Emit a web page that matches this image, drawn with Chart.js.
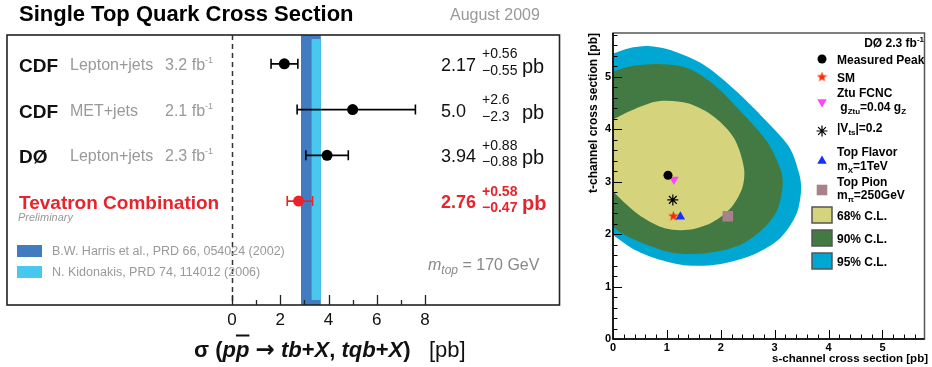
<!DOCTYPE html>
<html lang="en">
<head>
<meta charset="UTF-8" />
<title>Single Top Quark Cross Section</title>
<script src="https://cdn.jsdelivr.net/npm/chart.js@4.4.0/dist/chart.umd.min.js"></script>
<style>
  body { margin: 0; background: #fff; }
  #wrap { position: relative; width: 932px; height: 367px; overflow: hidden;
          font-family: "Liberation Sans", Arial, Helvetica, sans-serif; }
  canvas { position: absolute; top: 0; }
  .t { position: absolute; white-space: nowrap; line-height: 1; }
  .t sub, .t sup { line-height: 0; }
</style>
</head>
<body>
<div id="wrap">
  <canvas id="left" width="565" height="367" style="left:0"></canvas>
  <canvas id="right" width="370" height="367" style="left:562px"></canvas>
</div>
<script>
// ---- left panel: measurements ----
const rowNames = ['CDF', 'CDF', 'DØ', 'Tevatron Combination'];
const rowChannel = ['Lepton+jets', 'MET+jets', 'Lepton+jets', ''];
const rowLumi = ['3.2', '2.1', '2.3', ''];
const rowPos = [1, 2, 3, 4];
const xsec = [2.17, 5.0, 3.94, 2.76];
const xsecText = ['2.17', '5.0', '3.94', '2.76'];
const errUp = [0.56, 2.6, 0.88, 0.58];
const errDown = [0.55, 2.3, 0.88, 0.47];
const upText = ['+0.56', '+2.6', '+0.88', '+0.58'];
const downText = ['−0.55', '−2.3', '−0.88', '−0.47'];
const harrisBand = [2.86, 3.68];
const kidonakisBand = [3.30, 3.68];
const xTicks = [0, 2, 4, 6, 8];

// ---- right panel: s vs t channel ----
const models = ['Measured Peak', 'SM', 'Ztu FCNC', '|Vts|=0.2', 'Top Flavor', 'Top Pion'];
const modelS = [1.02, 1.12, 1.13, 1.11, 1.25, 2.13];
const modelT = [3.12, 2.34, 3.04, 2.65, 2.33, 2.34];
const c68s = [-0.2, 0, 0.35, 0.84, 1.39, 1.88, 2.25, 2.43, 2.40, 2.19, 1.82, 1.39, 0.96, 0.53, 0.22, 0, -0.2];
const c68t = [4.08, 4.18, 4.36, 4.53, 4.49, 4.23, 3.82, 3.26, 2.88, 2.50, 2.21, 2.08, 2.11, 2.33, 2.59, 2.81, 2.95];
const c90s = [-0.2, 0, 0.35, 0.84, 1.39, 1.88, 2.43, 2.86, 3.10, 3.15, 3.04, 2.74, 2.31, 1.69, 1.08, 0.59, 0.22, 0, -0.2];
const c90t = [5.02, 5.09, 5.20, 5.24, 5.16, 4.84, 4.27, 3.76, 3.26, 2.95, 2.44, 2.06, 1.77, 1.63, 1.65, 1.81, 1.98, 2.14, 2.3];
const c95s = [-0.2, 0, 0.3, 0.65, 1.08, 1.69, 2.30, 2.91, 3.28, 3.46, 3.49, 3.40, 3.10, 2.61, 2.00, 1.39, 0.78, 0.35, 0, -0.2];
const c95t = [5.38, 5.44, 5.54, 5.58, 5.50, 5.22, 4.71, 4.08, 3.64, 3.13, 2.82, 2.37, 1.92, 1.61, 1.43, 1.40, 1.54, 1.73, 1.98, 2.1];

const FONT = '"Liberation Sans", Arial, Helvetica, sans-serif';
const RED = '#e8232b';
const DARKBLUE = '#417cc0';
const LIGHTBLUE = '#48c8ee';
const CL_COLORS = ['#d5d47c', '#437a44', '#00a7d2'];
const wrap = document.getElementById('wrap');

function put(html, x, y, style, anchor) {
  const d = document.createElement('div');
  d.className = 't';
  d.innerHTML = html;
  d.style.cssText += style;
  d.style.left = x + 'px';
  d.style.top = y + 'px';
  const ax = anchor === 'right' ? '-100%' : anchor === 'center' ? '-50%' : '0';
  d.style.transform = 'translate(' + ax + ',-50%)';
  wrap.appendChild(d);
  return d;
}

const leftDecor = {
  id: 'leftDecor',
  beforeDatasetsDraw(chart) {
    const ctx = chart.ctx, a = chart.chartArea;
    const xs = chart.scales.x, ys = chart.scales.y;
    ctx.save();
    // theory bands
    let x1 = xs.getPixelForValue(harrisBand[0]), x2 = xs.getPixelForValue(harrisBand[1]);
    ctx.fillStyle = DARKBLUE;
    ctx.fillRect(x1, a.top, x2 - x1, a.bottom - a.top);
    x1 = xs.getPixelForValue(kidonakisBand[0]); x2 = xs.getPixelForValue(kidonakisBand[1]);
    ctx.fillStyle = LIGHTBLUE;
    ctx.fillRect(x1, a.top + 4, x2 - x1, a.bottom - a.top - 9);
    // zero line
    const x0 = Math.round(xs.getPixelForValue(0)) + 0.5;
    ctx.strokeStyle = '#333';
    ctx.lineWidth = 1.5;
    ctx.setLineDash([5, 4]);
    ctx.beginPath(); ctx.moveTo(x0, a.top); ctx.lineTo(x0, a.bottom); ctx.stroke();
    ctx.setLineDash([]);
    // error bars
    xsec.forEach((v, i) => {
      const y = ys.getPixelForValue(rowPos[i]);
      const lo = xs.getPixelForValue(v - errDown[i]), hi = xs.getPixelForValue(v + errUp[i]);
      ctx.strokeStyle = i === 3 ? RED : '#000';
      ctx.lineWidth = 1.6;
      ctx.beginPath();
      ctx.moveTo(lo, y); ctx.lineTo(hi, y);
      ctx.moveTo(lo, y - 5); ctx.lineTo(lo, y + 5);
      ctx.moveTo(hi, y - 5); ctx.lineTo(hi, y + 5);
      ctx.stroke();
    });
    ctx.restore();
  },
  afterDraw(chart) {
    const ctx = chart.ctx, a = chart.chartArea, xs = chart.scales.x;
    ctx.save();
    ctx.strokeStyle = '#222';
    ctx.lineWidth = 1.6;
    ctx.strokeRect(a.left, a.top, a.right - a.left, a.bottom - a.top);
    ctx.lineWidth = 1.3;
    ctx.beginPath();
    for (let v = 0; v <= 8; v++) {
      const x = Math.round(xs.getPixelForValue(v)) + 0.5;
      ctx.moveTo(x, a.bottom);
      ctx.lineTo(x, a.bottom - (v % 2 === 0 ? 10 : 5));
    }
    ctx.stroke();
    // legend swatches
    ctx.fillStyle = DARKBLUE; ctx.fillRect(17, 245, 25, 12);
    ctx.fillStyle = LIGHTBLUE; ctx.fillRect(17, 266, 25, 12);
    ctx.restore();
  }
};

const leftChart = new Chart(document.getElementById('left'), {
  type: 'scatter',
  data: {
    datasets: [
      { data: xsec.slice(0, 3).map((v, i) => ({ x: v, y: rowPos[i] })),
        pointRadius: 5.5, backgroundColor: '#000', borderColor: '#000', borderWidth: 0 },
      { data: [{ x: xsec[3], y: rowPos[3] }],
        pointRadius: 5.5, backgroundColor: RED, borderColor: RED, borderWidth: 0 }
    ]
  },
  options: {
    responsive: false,
    animation: false,
    layout: { padding: { left: 7, right: 3, top: 35, bottom: 0 } },
    plugins: { legend: { display: false }, tooltip: { enabled: false } },
    scales: {
      x: {
        type: 'linear', min: -9.32, max: 13.57,
        afterFit(s) { s.height = 62; },
        afterBuildTicks(s) { s.ticks = xTicks.map(v => ({ value: v })); },
        grid: { display: false, drawTicks: false },
        border: { display: false },
        ticks: { font: { size: 17, family: FONT }, color: '#111', padding: 5, maxRotation: 0 }
      },
      y: { type: 'linear', display: false, reverse: true, min: 0.37, max: 6.27 }
    }
  },
  plugins: [leftDecor]
});

// left panel texts
put('Single Top Quark Cross Section', 19, 14, 'font-size:22px;font-weight:bold;color:#000;');
put('August 2009', 450, 15, 'font-size:16px;color:#999;');
rowPos.forEach((p, i) => {
  const y = leftChart.scales.y.getPixelForValue(p) + 1;
  const isComb = i === 3;
  const col = isComb ? RED : '#111';
  put(rowNames[i], 19, y, 'font-size:19px;font-weight:bold;color:' + col + ';');
  if (rowChannel[i]) {
    put(rowChannel[i], 70, y, 'font-size:16px;color:#999;');
    put(rowLumi[i] + ' fb<sup style="font-size:9px;vertical-align:7px">-1</sup>', 165, y, 'font-size:16px;color:#999;');
  }
  const w = isComb ? 'font-weight:bold;' : '';
  put(xsecText[i], 441, y, 'font-size:18px;color:' + col + ';' + w);
  put(upText[i], 482, y - 11.5, 'font-size:14px;color:' + col + ';' + w);
  put(downText[i], 482, y + 5, 'font-size:14px;color:' + col + ';' + w);
  put('pb', 522, y + 1, 'font-size:20px;color:' + col + ';' + w);
});
put('Preliminary', 18, 217, 'font-size:11px;font-style:italic;color:#999;');
put('B.W. Harris et al., PRD 66, 054024 (2002)', 52, 251, 'font-size:12.5px;color:#999;');
put('N. Kidonakis, PRD 74, 114012 (2006)', 52, 272, 'font-size:12.5px;color:#999;');
put('<i>m<sub style="font-size:12px;vertical-align:-4px">top</sub></i> = 170 GeV', 428, 265, 'font-size:16px;color:#888;');
put('<b>σ (<i>p<span style="text-decoration:overline">p</span></i> <span style="font-family:\'DejaVu Sans\';font-size:23px">→</span> <i>tb</i>+<i>X</i>, <i>tqb</i>+<i>X</i>)</b>&nbsp;&nbsp;&nbsp;[pb]',
  194, 349, 'font-size:22px;color:#111;');

// ---- right panel ----
function starImage(size, color) {
  const c = document.createElement('canvas');
  c.width = c.height = size;
  const g = c.getContext('2d');
  g.fillStyle = color;
  g.beginPath();
  for (let k = 0; k < 10; k++) {
    const r = k % 2 ? size * 0.2 : size * 0.5;
    const ang = -Math.PI / 2 + k * Math.PI / 5;
    g.lineTo(size / 2 + r * Math.cos(ang), size / 2 + r * Math.sin(ang));
  }
  g.closePath();
  g.fill();
  return c;
}
const redStar = starImage(11, '#ff2a00');

const markerStyle = [
  { pointStyle: 'circle', radius: 4.5, rotation: 0, bg: '#000', border: '#000', bw: 0 },
  { pointStyle: redStar, radius: 5, rotation: 0, bg: '#ff2a00', border: '#ff2a00', bw: 0 },
  { pointStyle: 'triangle', radius: 5.5, rotation: 180, bg: '#ff44ff', border: '#ff44ff', bw: 0 },
  { pointStyle: 'star', radius: 5.5, rotation: 0, bg: '#000', border: '#000', bw: 1.2 },
  { pointStyle: 'triangle', radius: 5.5, rotation: 0, bg: '#1530ff', border: '#1530ff', bw: 0 },
  { pointStyle: 'rect', radius: 7.5, rotation: 0, bg: '#a88289', border: '#a88289', bw: 0 }
];

function contour(sArr, tArr, color, label) {
  return {
    label: label, data: sArr.map((s, i) => ({ x: s, y: tArr[i] })),
    showLine: true, fill: 'shape', backgroundColor: color, borderColor: color,
    borderWidth: 0, pointRadius: 0, tension: 0.3
  };
}

const rightDecor = {
  id: 'rightDecor',
  afterDatasetsDraw(chart) {
    const ctx = chart.ctx, a = chart.chartArea;
    const xs = chart.scales.x, ys = chart.scales.y;
    ctx.save();
    ctx.strokeStyle = '#000';
    ctx.lineWidth = 1;
    ctx.beginPath();
    for (let k = 0; k * 0.2 <= xs.max + 1e-9; k++) {
      const x = Math.round(xs.getPixelForValue(k * 0.2)) + 0.5;
      ctx.moveTo(x, a.bottom); ctx.lineTo(x, a.bottom - (k % 5 === 0 ? 9 : 4.5));
    }
    for (let k = 0; k * 0.2 <= ys.max + 1e-9; k++) {
      const y = Math.round(ys.getPixelForValue(k * 0.2)) + 0.5;
      ctx.moveTo(a.left, y); ctx.lineTo(a.left + (k % 5 === 0 ? 9 : 4.5), y);
    }
    ctx.stroke();
    ctx.strokeStyle = '#555';
    ctx.lineWidth = 1.5;
    ctx.strokeRect(a.left, a.top, a.right - a.left, a.bottom - a.top);
    ctx.strokeStyle = '#000';
    ctx.beginPath();
    ctx.moveTo(a.left, a.top); ctx.lineTo(a.left, a.bottom); ctx.lineTo(a.right, a.bottom);
    ctx.stroke();
    // legend symbols
    const off = 562;
    const symY = [59, 77, 102, 131, 161, 190];
    markerStyle.forEach((m, i) => {
      ctx.fillStyle = m.bg; ctx.strokeStyle = m.border; ctx.lineWidth = m.bw;
      Chart.helpers.drawPoint(ctx, { pointStyle: m.pointStyle, radius: m.radius, rotation: m.rotation, borderWidth: m.bw }, 822 - off, symY[i]);
    });
    const swY = [207, 230, 253];
    swY.forEach((y, i) => {
      ctx.fillStyle = CL_COLORS[i];
      ctx.fillRect(812 - off, y, 20, 16);
      ctx.strokeStyle = '#555'; ctx.lineWidth = 1.5;
      ctx.strokeRect(812 - off, y, 20, 16);
    });
    ctx.restore();
  }
};

const rightChart = new Chart(document.getElementById('right'), {
  type: 'scatter',
  data: {
    datasets: models.map((m, i) => ({
      label: m, data: [{ x: modelS[i], y: modelT[i] }],
      pointStyle: markerStyle[i].pointStyle, pointRadius: markerStyle[i].radius,
      pointRotation: markerStyle[i].rotation, backgroundColor: markerStyle[i].bg,
      borderColor: markerStyle[i].border, borderWidth: markerStyle[i].bw
    })).concat([
      contour(c68s, c68t, CL_COLORS[0], '68% C.L.'),
      contour(c90s, c90t, CL_COLORS[1], '90% C.L.'),
      contour(c95s, c95t, CL_COLORS[2], '95% C.L.')
    ])
  },
  options: {
    responsive: false,
    animation: false,
    layout: { padding: { left: 21, right: 4, top: 33, bottom: 8 } },
    plugins: { legend: { display: false }, tooltip: { enabled: false } },
    scales: {
      x: {
        type: 'linear', min: 0, max: 5.78,
        afterFit(s) { s.height = 20; },
        grid: { display: false, drawTicks: false }, border: { display: false },
        ticks: { stepSize: 1, includeBounds: false, maxRotation: 0, padding: 2,
                 font: { size: 11, weight: 'bold', family: FONT }, color: '#000' }
      },
      y: {
        type: 'linear', min: 0, max: 5.83,
        afterFit(s) { s.width = 30; },
        grid: { display: false, drawTicks: false }, border: { display: false },
        ticks: { stepSize: 1, includeBounds: false, padding: 2,
                 font: { size: 11, weight: 'bold', family: FONT }, color: '#000' }
      }
    }
  },
  plugins: [rightDecor]
});

// right panel texts
const RB = 'font-size:12px;font-weight:bold;color:#000;';
const SB = 'style="font-size:8px;vertical-align:-3px"';
put('DØ 2.3 fb<sup style="font-size:8px;vertical-align:5px">-1</sup>', 924, 43, RB, 'right');
put('Measured Peak', 837, 60, RB);
put('SM', 837, 78, RB);
put('Ztu FCNC', 837, 93, RB);
put('&nbsp;g<sub ' + SB + '>Ztu</sub>=0.04 g<sub ' + SB + '>Z</sub>', 837, 107, RB);
put('|V<sub ' + SB + '>ts</sub>|=0.2', 837, 128, RB);
put('Top Flavor', 837, 152, RB);
put('m<sub ' + SB + '>X</sub>=1TeV', 837, 166, RB);
put('Top Pion', 837, 182, RB);
put('m<sub ' + SB + '>π</sub>=250GeV', 837, 195, RB);
put('68% C.L.', 837, 216, RB);
put('90% C.L.', 837, 239, RB);
put('95% C.L.', 837, 262, RB);
put('s-channel cross section [pb]', 928, 359, 'font-size:11.5px;font-weight:bold;color:#000;', 'right');
const yt = put('t-channel cross section [pb]', 593, 33, 'font-size:12px;font-weight:bold;color:#000;');
yt.style.transformOrigin = '0 0';
yt.style.transform = 'rotate(-90deg) translate(-100%,-50%)';
</script>
</body>
</html>
